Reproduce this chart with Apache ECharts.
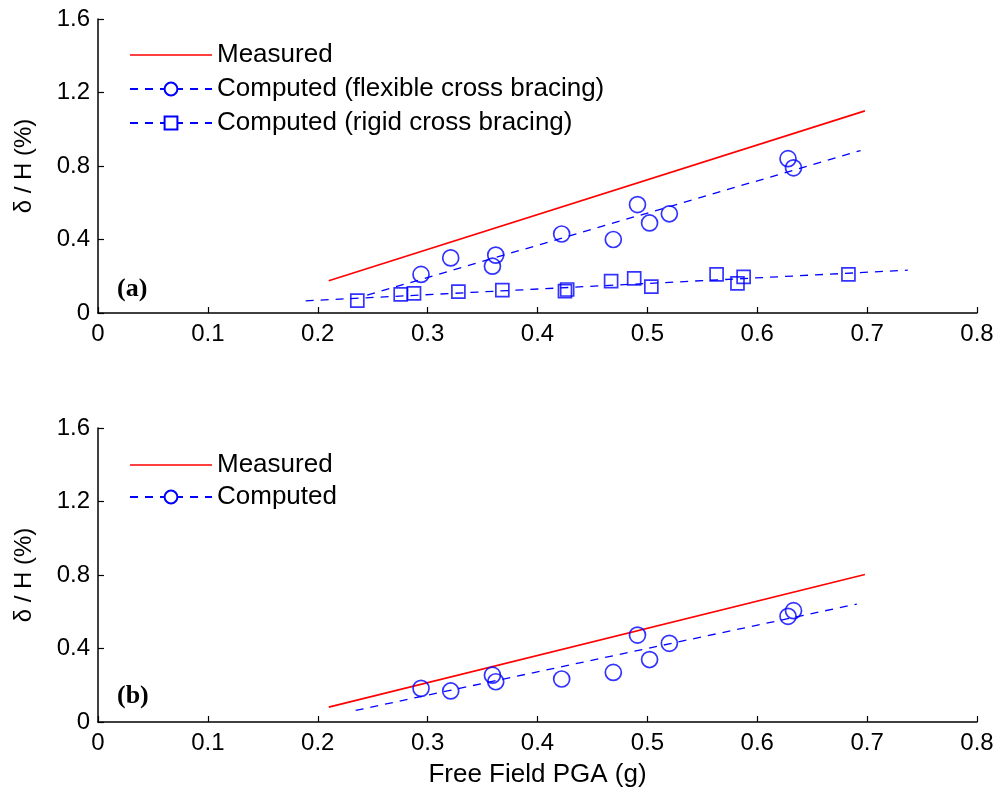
<!DOCTYPE html>
<html>
<head>
<meta charset="utf-8">
<script src="https://cdn.jsdelivr.net/npm/echarts@6/dist/echarts.min.js"></script>
<style>html,body{margin:0;padding:0;background:#fff}#c{width:997px;height:794px}</style>
</head>
<body>
<div id="c"></div>
<script>
// ---- data ----
const pgaFlex = [0.294, 0.321, 0.359, 0.362, 0.422, 0.469, 0.491, 0.502, 0.520, 0.628, 0.633];
const flexA   = [0.21, 0.30, 0.255, 0.315, 0.43, 0.40, 0.59, 0.49, 0.54, 0.84, 0.79];
const pgaRigid = [0.236, 0.2755, 0.2876, 0.328, 0.368, 0.425, 0.427, 0.467, 0.488, 0.5036, 0.563, 0.582, 0.5876, 0.683];
const rigidA   = [0.067, 0.101, 0.107, 0.116, 0.125, 0.119, 0.128, 0.173, 0.188, 0.143, 0.210, 0.161, 0.197, 0.210];
const compB    = [0.183, 0.169, 0.255, 0.219, 0.234, 0.270, 0.473, 0.340, 0.428, 0.575, 0.606];
const measuredA = [[0.21, 0.175], [0.698, 1.10]];
const fitFlexA  = [[0.245, 0.097], [0.694, 0.884]];
const fitRigidA = [[0.189, 0.066], [0.737, 0.233]];
const measuredB = [[0.21, 0.081], [0.698, 0.803]];
const fitB      = [[0.2345, 0.063], [0.6906, 0.642]];
const xTicks = [0, 0.1, 0.2, 0.3, 0.4, 0.5, 0.6, 0.7, 0.8];
const yTicks = [0, 0.4, 0.8, 1.2, 1.6];
const nameMeasured = 'Measured';
const nameFlex = 'Computed (flexible cross bracing)';
const nameRigid = 'Computed (rigid cross bracing)';
const nameComp = 'Computed';
const yName = 'δ / H (%)';
const xName = 'Free Field PGA (g)';

const RED = '#ff0000', BLUE = '#0000ff';
const FONT = 'Liberation Sans, Arial, Helvetica, sans-serif';

function xAxisCfg(gi, withName) {
  return {
    gridIndex: gi, type: 'value', min: xTicks[0], max: xTicks[xTicks.length - 1], interval: 0.1,
    axisLine: { lineStyle: { color: '#000', width: 1.5 } },
    axisTick: { inside: true, length: 6, lineStyle: { color: '#000', width: 1.2 } },
    axisLabel: { color: '#000', fontSize: 24, fontFamily: FONT, margin: 9,
      formatter: v => String(+v.toFixed(1)) },
    splitLine: { show: false },
    name: withName ? xName : '', nameLocation: 'middle', nameGap: 40,
    nameTextStyle: { color: '#000', fontSize: 26, fontFamily: FONT }
  };
}
function yAxisCfg(gi) {
  return {
    gridIndex: gi, type: 'value', min: yTicks[0], max: yTicks[yTicks.length - 1], interval: 0.4,
    axisLine: { show: true, lineStyle: { color: '#000', width: 1.5 } },
    axisTick: { show: true, inside: true, length: 6, lineStyle: { color: '#000', width: 1.2 } },
    axisLabel: { color: '#000', fontSize: 24, fontFamily: FONT, margin: 8,
      formatter: v => String(+v.toFixed(1)) },
    splitLine: { show: false },
    name: yName, nameLocation: 'middle', nameGap: 62, nameRotate: 90,
    nameTextStyle: { color: '#000', fontSize: 24, fontFamily: FONT }
  };
}
const dash = [8, 7];
function lineSeries(name, data, xi, color, dashed, sym) {
  return {
    name, type: 'line', xAxisIndex: xi, yAxisIndex: xi, data,
    symbol: sym || 'none', showSymbol: false, silent: true, animation: false,
    itemStyle: { color },
    lineStyle: { color, width: dashed ? 1.3 : 1.6, type: dashed ? dash : 'solid' },
    z: 2
  };
}
function scatterSeries(name, xs, ys, xi, sym, size) {
  return {
    name, type: 'scatter', xAxisIndex: xi, yAxisIndex: xi,
    data: xs.map((x, i) => [x, ys[i]]),
    symbol: sym, symbolSize: size, animation: false,
    itemStyle: { color: 'rgba(0,0,0,0)', borderColor: BLUE, borderWidth: 1.7 },
    z: 3
  };
}
const measIcon = 'path://M0,0 H100 V2 H0 Z';
const legendText = { color: '#000', fontSize: 26, fontFamily: FONT };

const option = {
  backgroundColor: '#fff',
  animation: false,
  grid: [
    { left: 98, top: 19, width: 879, height: 294 },
    { left: 98, top: 428, width: 879, height: 294 }
  ],
  xAxis: [xAxisCfg(0, false), xAxisCfg(1, true)],
  yAxis: [yAxisCfg(0), yAxisCfg(1)],
  legend: [
    { orient: 'vertical', left: 124, top: 37, itemWidth: 82, itemHeight: 16, itemGap: 8,
      selectedMode: false, textStyle: legendText,
      data: [{ name: nameMeasured, icon: measIcon }, nameFlex, nameRigid] },
    { orient: 'vertical', left: 124, top: 447, itemWidth: 82, itemHeight: 16, itemGap: 6,
      selectedMode: false, textStyle: legendText,
      data: [{ name: nameMeasured + ' ', icon: measIcon }, nameComp] }
  ],
  graphic: [
    { type: 'text', left: 117, top: 276, style: { text: '(a)', font: 'bold 26px "Liberation Serif", "Times New Roman", serif', fill: '#000' } },
    { type: 'text', left: 117, top: 683, style: { text: '(b)', font: 'bold 26px "Liberation Serif", "Times New Roman", serif', fill: '#000' } }
  ],
  series: [
    lineSeries(nameMeasured, measuredA, 0, RED, false),
    lineSeries(nameFlex, fitFlexA, 0, BLUE, true, 'emptyCircle'),
    scatterSeries(nameFlex, pgaFlex, flexA, 0, 'circle', 16),
    lineSeries(nameRigid, fitRigidA, 0, BLUE, true, 'emptyRect'),
    scatterSeries(nameRigid, pgaRigid, rigidA, 0, 'rect', 13),
    lineSeries(nameMeasured + ' ', measuredB, 1, RED, false),
    lineSeries(nameComp, fitB, 1, BLUE, true, 'emptyCircle'),
    scatterSeries(nameComp, pgaFlex, compB, 1, 'circle', 16)
  ]
};
const chart = echarts.init(document.getElementById('c'), null, { renderer: 'canvas' });
chart.setOption(option);
</script>
</body>
</html>
